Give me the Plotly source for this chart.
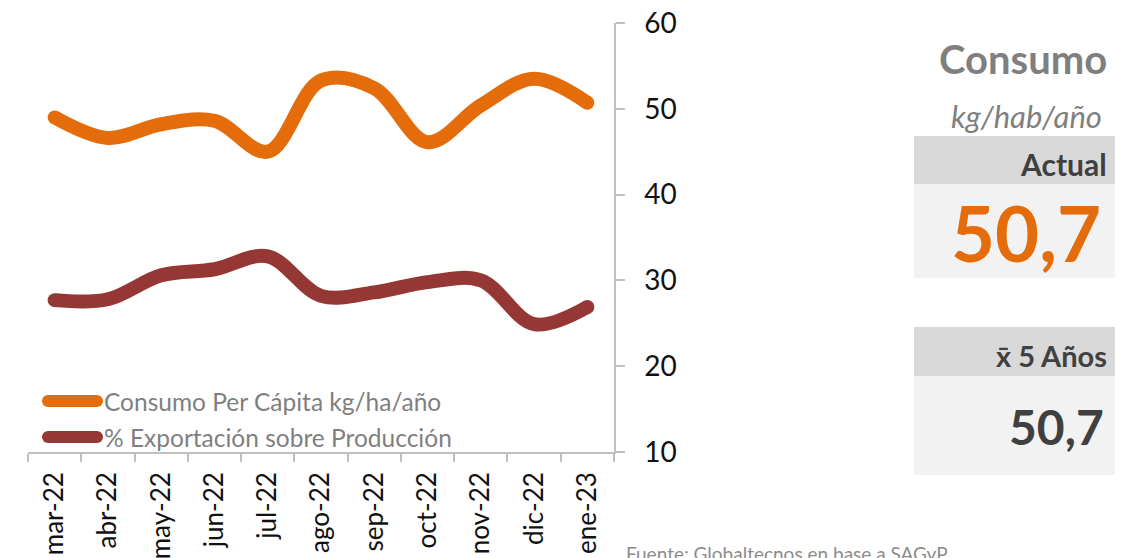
import plotly.graph_objects as go

months = ["mar-22", "abr-22", "may-22", "jun-22", "jul-22", "ago-22",
          "sep-22", "oct-22", "nov-22", "dic-22", "ene-23"]
consumo = [49.0, 46.6, 48.2, 48.6, 45.0, 53.3, 52.4, 46.1, 50.4, 53.5, 50.7]
exportacion = [27.7, 27.8, 30.6, 31.3, 32.8, 28.2, 28.6, 29.8, 30.0, 24.9, 26.9]
series_names = ["Consumo Per Cápita kg/ha/año", "% Exportación sobre Producción"]
y_ticks = [10, 20, 30, 40, 50, 60]
actual_value = "50,7"
avg5_value = "50,7"

ORANGE = "#E46C0A"
RED = "#953735"
AXIS = "#BFBFBF"
FONT = "Lato"

W, H = 1129, 558
L, R, T, B = 28, 515, 23, 106
PW, PH = W - L - R, H - T - B


def px(x):
    return (x - L) / PW


def py(y):
    return (H - B - y) / PH


fig = go.Figure()
LW = 14
for vals, color, name in [(consumo, ORANGE, series_names[0]), (exportacion, RED, series_names[1])]:
    n = len(vals)
    fig.add_trace(go.Scatter(
        x=months, y=vals, mode="lines+markers", name=name,
        line=dict(color=color, width=LW, shape="spline", smoothing=1.0),
        marker=dict(color=color, opacity=1, size=[LW] + [0] * (n - 2) + [LW],
                    line=dict(width=0, color=color)),
        opacity=1, showlegend=False, hoverinfo="skip",
    ))

fig.update_xaxes(
    type="category", range=[-0.5, len(months) - 0.5], tickangle=-90, automargin=False,
    tickson="boundaries", ticks="outside", ticklen=8, tickcolor=AXIS, tickwidth=1.5,
    showline=True, linecolor=AXIS, linewidth=1.5, showgrid=False, zeroline=False,
    ticklabelstandoff=8,
    tickfont=dict(family=FONT, size=26, color="#111111"),
)
fig.update_yaxes(
    side="right", range=[10, 60], tickvals=y_ticks, ticks="outside", ticklen=9, automargin=False,
    tickcolor=AXIS, tickwidth=1.5, showline=True, linecolor=AXIS, linewidth=1.5,
    showgrid=False, zeroline=False, ticklabelstandoff=14,
    tickfont=dict(family=FONT, size=28, color="#111111"),
)

shapes = []
annotations = []

# custom legend
for i, (name, color) in enumerate(zip(series_names, [ORANGE, RED])):
    yc = 401 + i * 36
    shapes.append(dict(type="line", xref="paper", yref="paper",
                       x0=px(42 + 6), x1=px(103 - 6), y0=py(yc), y1=py(yc),
                       line=dict(color=color, width=12)))
    for xc in (42 + 6, 103 - 6):
        shapes.append(dict(type="circle", xref="paper", yref="paper",
                           xsizemode="pixel", ysizemode="pixel",
                           xanchor=px(xc), yanchor=py(yc),
                           x0=-6, x1=6, y0=-6, y1=6,
                           fillcolor=color, line=dict(width=0)))
    annotations.append(dict(text=name, xref="paper", yref="paper", x=px(102), y=py(yc),
                            xanchor="left", yanchor="middle", showarrow=False,
                            font=dict(family=FONT, size=24.5, color="#7F7F7F")))

# right panel boxes
for (y0, y1, c) in [(136, 184, "#D9D9D9"), (184, 278, "#F2F2F2"),
                    (327, 376, "#D9D9D9"), (376, 475, "#F2F2F2")]:
    shapes.append(dict(type="rect", xref="paper", yref="paper",
                       x0=px(914), x1=px(1115), y0=py(y1), y1=py(y0),
                       fillcolor=c, line=dict(width=0), layer="below"))


def ann(text, x, y, size, color, xanchor="right", yanchor="middle"):
    annotations.append(dict(text=text, xref="paper", yref="paper", x=px(x), y=py(y),
                            xanchor=xanchor, yanchor=yanchor, showarrow=False,
                            font=dict(family=FONT, size=size, color=color)))


ann("<b>Consumo</b>", 1109, 59, 40, "#7F7F7F")
ann("<i>kg/hab/año</i>", 1104, 116, 31, "#7F7F7F")
ann("<b>Actual</b>", 1109, 164, 30, "#404040")
ann("<b>" + actual_value + "</b>", 1103, 232, 76, ORANGE)
ann("<b>x\u0304 5 Años</b>", 1109, 355, 29, "#404040")
ann("<b>" + avg5_value + "</b>", 1106, 426, 48, "#404040")
ann("Fuente: Globaltecnos en base a SAGyP", 624, 540, 19, "#8C8C8C",
    xanchor="left", yanchor="top")

fig.update_layout(
    width=W, height=H,
    margin=dict(l=L, r=R, t=T, b=B, autoexpand=False),
    paper_bgcolor="white", plot_bgcolor="white",
    shapes=shapes, annotations=annotations,
    font=dict(family=FONT),
)

fig.write_html("out.html", config={"displayModeBar": False},
               post_script="document.body.style.margin='0';document.body.style.overflow='hidden';")
